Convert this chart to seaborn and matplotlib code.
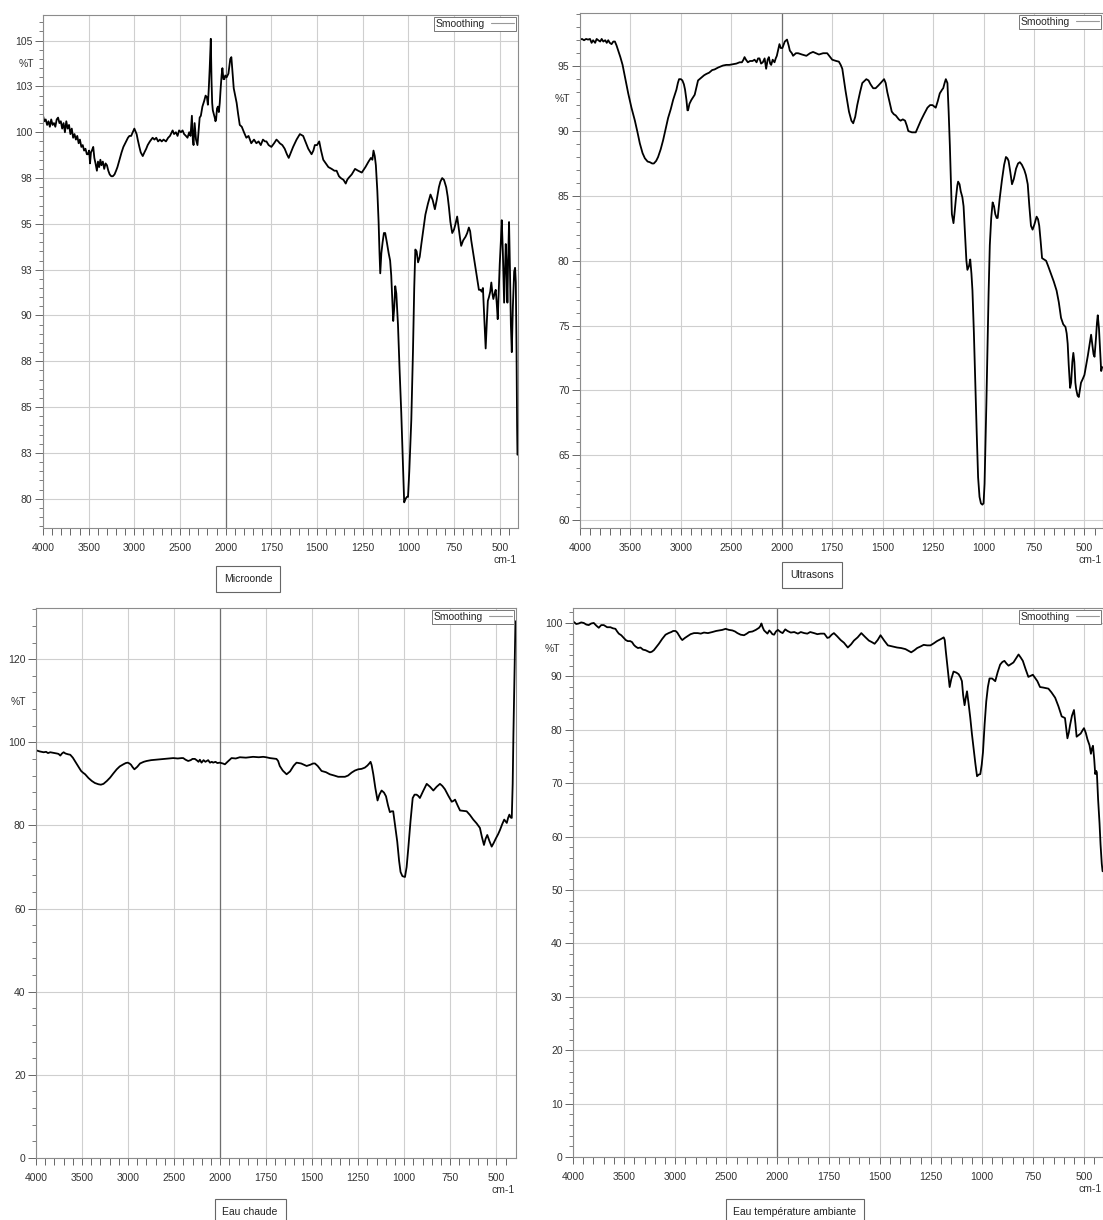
import numpy as np
import pandas as pd
import matplotlib
matplotlib.use("Agg")
import matplotlib.pyplot as plt
from matplotlib.lines import Line2D
from matplotlib.ticker import FixedLocator, MultipleLocator, FuncFormatter
import seaborn as sns

sns.set_theme(style="white")
plt.rcParams['font.family'] = ['Liberation Sans', 'DejaVu Sans']

# ---- spectra (wavenumber cm-1, %T) ----
micro_wn = [4000, 3985, 3970, 3955, 3940, 3925, 3910, 3895, 3880, 3865, 3850, 3835, 3820, 3805, 3790, 3775,
            3760, 3745, 3730, 3715, 3700, 3685, 3670, 3655, 3640, 3625, 3610, 3596, 3580, 3565, 3550, 3535,
            3520, 3508, 3495, 3485, 3475, 3465, 3450, 3438, 3425, 3410, 3398, 3385, 3372, 3360, 3345, 3330,
            3315, 3300, 3285, 3270, 3253, 3235, 3217, 3200, 3185, 3163, 3140, 3120, 3090, 3070, 3054, 3035,
            3017, 3000, 2992, 2975, 2963, 2945, 2930, 2908, 2890, 2870, 2854, 2830, 2800, 2780, 2760, 2740,
            2720, 2700, 2680, 2654, 2630, 2610, 2581, 2565, 2545, 2527, 2510, 2490, 2472, 2455, 2435, 2418,
            2400, 2385, 2370, 2360, 2352, 2340, 2325, 2309, 2295, 2285, 2272, 2255, 2236, 2220, 2205, 2195,
            2185, 2175, 2163, 2155, 2148, 2141, 2130, 2120, 2112, 2105, 2095, 2085, 2075, 2065, 2055, 2045,
            2036, 2025, 2014, 2005, 1995, 1985, 1975, 1969, 1963, 1956, 1948, 1940, 1932, 1923, 1912, 1900,
            1887, 1875, 1860, 1845, 1832, 1820, 1808, 1796, 1785, 1777, 1765, 1750, 1735, 1722, 1712, 1704,
            1690, 1677, 1665, 1655, 1643, 1631, 1612, 1594, 1576, 1560, 1548, 1530, 1520, 1512, 1500, 1488,
            1478, 1466, 1452, 1438, 1420, 1405, 1393, 1380, 1370, 1355, 1343, 1335, 1328, 1310, 1292, 1275,
            1255, 1235, 1218, 1205, 1197, 1191, 1184, 1178, 1170, 1163, 1158, 1154, 1148, 1141, 1134, 1127,
            1118, 1108, 1100, 1094, 1088, 1083, 1077, 1072, 1066, 1057, 1048, 1039, 1030, 1023, 1015, 1008,
            1002, 995, 984, 975, 968, 962, 955, 947, 938, 929, 918, 907, 893, 879, 867, 855,
            845, 833, 825, 815, 805, 793, 785, 778, 770, 760, 750, 742, 733, 725, 717, 711,
            700, 687, 678, 669, 662, 656, 645, 632, 623, 614, 605, 599, 592, 585, 577, 570,
            565, 559, 552, 546, 540, 535, 528, 522, 516, 511, 505, 500, 494, 489, 483, 476,
            471, 467, 462, 458, 454, 449, 444, 439, 434, 428, 421, 416, 412, 408, 405, 403]
micro_t = [100.9, 100.6, 100.7, 100.4, 100.6, 100.3, 100.7, 100.4, 100.5, 100.3, 100.7, 100.8, 100.5, 100.6, 100.2, 100.5,
           100.0, 100.6, 100.2, 100.4, 99.9, 100.2, 99.7, 99.9, 99.6, 99.8, 99.4, 99.6, 99.2, 99.3, 99.0, 99.1,
           98.8, 98.8, 99.0, 98.3, 98.9, 99.0, 99.2, 98.6, 98.3, 97.9, 98.4, 98.1, 98.5, 98.2, 98.4, 98.0,
           98.3, 98.2, 97.9, 97.7, 97.6, 97.6, 97.7, 97.9, 98.1, 98.5, 98.9, 99.2, 99.5, 99.7, 99.8, 99.8,
           100.0, 100.2, 100.1, 99.9, 99.6, 99.2, 98.9, 98.7, 98.9, 99.1, 99.3, 99.5, 99.7, 99.6, 99.7, 99.5,
           99.6, 99.5, 99.6, 99.5, 99.7, 99.8, 100.1, 99.9, 100.0, 99.8, 100.1, 100.0, 100.1, 99.9, 99.8, 99.7,
           100.0, 99.8, 100.9, 99.6, 99.3, 100.5, 99.6, 99.3, 100.2, 100.8, 100.9, 101.4, 101.7, 102.0, 101.9, 101.5,
           102.4, 103.5, 105.1, 102.8, 101.6, 101.2, 101.0, 100.8, 100.6, 100.7, 101.3, 101.4, 101.1, 101.6, 102.4, 103.1,
           103.5, 102.9, 102.9, 103.1, 103.0, 103.2, 104.0, 104.1, 103.3, 102.4, 102.0, 101.6, 101.0, 100.4, 100.3, 100.0,
           99.7, 99.8, 99.4, 99.6, 99.4, 99.5, 99.3, 99.6, 99.5, 99.5, 99.3, 99.2, 99.4, 99.6, 99.5, 99.4,
           99.3, 99.1, 98.8, 98.6, 98.9, 99.2, 99.6, 99.9, 99.8, 99.4, 99.1, 98.8, 99.0, 99.3, 99.3, 99.5,
           99.0, 98.5, 98.3, 98.1, 98.0, 97.9, 97.9, 97.6, 97.5, 97.4, 97.2, 97.4, 97.5, 97.7, 98.0, 97.9,
           97.8, 98.1, 98.4, 98.6, 98.5, 99.0, 98.7, 98.2, 96.8, 95.1, 93.4, 92.3, 93.4, 94.0, 94.5, 94.5,
           94.0, 93.4, 93.0, 92.2, 90.8, 89.7, 90.5, 91.6, 91.2, 89.5, 87.0, 84.7, 82.0, 79.8, 80.0, 80.1,
           80.1, 81.5, 84.3, 88.0, 91.5, 93.6, 93.5, 92.9, 93.2, 93.9, 94.7, 95.5, 96.1, 96.6, 96.3, 95.8,
           96.3, 97.0, 97.3, 97.5, 97.4, 97.0, 96.5, 95.9, 95.1, 94.5, 94.7, 95.0, 95.4, 94.8, 94.2, 93.8,
           94.1, 94.3, 94.5, 94.8, 94.6, 94.1, 93.4, 92.6, 92.0, 91.4, 91.4, 91.3, 91.5, 90.0, 88.2, 89.8,
           90.8, 91.0, 91.3, 91.8, 91.2, 90.9, 91.2, 91.4, 90.6, 89.8, 91.5, 92.8, 94.0, 95.2, 93.5, 90.7,
           92.5, 93.9, 92.5, 90.7, 93.0, 95.1, 92.5, 89.5, 88.0, 90.5, 92.4, 92.6, 91.8, 88.0, 84.0, 82.4]

ultra_wn = [4000, 3980, 3960, 3940, 3920, 3901, 3885, 3870, 3850, 3835, 3819, 3800, 3785, 3769, 3750, 3735,
            3720, 3705, 3687, 3670, 3654, 3638, 3621, 3600, 3578, 3550, 3522, 3490, 3456, 3430, 3407, 3380,
            3357, 3330, 3308, 3285, 3268, 3245, 3226, 3200, 3176, 3150, 3127, 3100, 3077, 3060, 3044, 3030,
            3018, 3000, 2985, 2970, 2959, 2945, 2935, 2929, 2915, 2896, 2880, 2863, 2845, 2830, 2800, 2770,
            2748, 2720, 2690, 2666, 2630, 2600, 2583, 2550, 2520, 2484, 2450, 2418, 2395, 2380, 2369, 2355,
            2336, 2315, 2290, 2270, 2250, 2235, 2221, 2205, 2188, 2170, 2155, 2140, 2128, 2115, 2105, 2090,
            2072, 2060, 2049, 2035, 2023, 2010, 1997, 1985, 1974, 1966, 1960, 1950, 1944, 1930, 1919, 1900,
            1878, 1860, 1845, 1830, 1816, 1795, 1775, 1760, 1750, 1730, 1717, 1708, 1700, 1684, 1667, 1655,
            1646, 1636, 1626, 1612, 1601, 1581, 1570, 1560, 1547, 1535, 1522, 1510, 1493, 1485, 1477, 1465,
            1455, 1445, 1435, 1420, 1411, 1400, 1389, 1380, 1373, 1355, 1336, 1325, 1311, 1295, 1278, 1265,
            1253, 1237, 1227, 1217, 1205, 1200, 1193, 1187, 1179, 1173, 1167, 1160, 1157, 1149, 1143, 1137,
            1130, 1126, 1119, 1113, 1105, 1099, 1095, 1091, 1085, 1080, 1072, 1066, 1060, 1055, 1048, 1041,
            1034, 1027, 1020, 1013, 1006, 1000, 995, 992, 986, 980, 975, 969, 962, 955, 948, 942,
            935, 930, 920, 909, 898, 889, 882, 876, 867, 859, 850, 839, 829, 820, 810, 798,
            790, 781, 773, 765, 757, 748, 737, 730, 724, 717, 710, 700, 690, 680, 666, 652,
            638, 627, 616, 605, 594, 588, 583, 578, 571, 566, 560, 555, 550, 545, 541, 534,
            528, 522, 517, 508, 500, 492, 483, 475, 467, 462, 455, 450, 443, 438, 434, 428,
            422, 417, 412]
ultra_t = [97.05, 97.1, 97.0, 97.1, 97.05, 97.1, 96.8, 97.0, 96.8, 97.1, 97.0, 96.9, 97.1, 96.9, 97.0, 96.8,
           97.0, 96.8, 96.7, 96.9, 96.9, 96.6, 96.2, 95.7, 95.1, 94.0, 92.9, 91.8, 90.8, 89.9, 89.05, 88.3,
           87.9, 87.65, 87.6, 87.5, 87.5, 87.7, 88.0, 88.6, 89.3, 90.2, 91.0, 91.7, 92.4, 92.8, 93.2, 93.7,
           94.0, 94.0, 93.9, 93.6, 93.2, 92.4, 91.6, 91.6, 92.1, 92.4, 92.6, 92.8, 93.4, 93.9, 94.1, 94.3,
           94.4, 94.5, 94.7, 94.75, 94.9, 95.0, 95.05, 95.1, 95.1, 95.15, 95.2, 95.3, 95.3, 95.5, 95.7, 95.5,
           95.3, 95.4, 95.4, 95.5, 95.3, 95.6, 95.6, 95.2, 95.3, 95.6, 94.8, 95.5, 95.7, 95.2, 95.1, 95.5,
           95.3, 95.6, 95.8, 96.3, 96.7, 96.4, 96.4, 96.9, 97.05, 96.6, 96.2, 96.0, 95.8, 96.0, 96.0, 95.9,
           95.8, 96.0, 96.1, 96.0, 95.9, 96.0, 96.0, 95.7, 95.5, 95.4, 95.35, 95.1, 94.8, 93.1, 91.5, 90.8,
           90.6, 91.1, 92.0, 93.0, 93.7, 94.0, 93.9, 93.6, 93.3, 93.3, 93.5, 93.7, 94.0, 93.7, 93.0, 92.2,
           91.5, 91.3, 91.2, 90.9, 90.8, 90.9, 90.8, 90.4, 90.0, 89.9, 89.9, 90.3, 90.8, 91.3, 91.8, 92.0,
           92.0, 91.8, 92.3, 92.9, 93.2, 93.3, 93.7, 94.0, 93.7, 91.5, 88.9, 85.0, 83.6, 82.9, 83.8, 84.8,
           85.8, 86.1, 85.9, 85.35, 84.9, 84.2, 83.0, 81.8, 80.0, 79.3, 79.6, 80.1, 79.0, 77.7, 74.5, 70.6,
           66.8, 63.3, 61.8, 61.3, 61.2, 61.3, 62.8, 64.8, 69.0, 73.6, 77.5, 81.2, 83.3, 84.5, 84.2, 83.6,
           83.3, 83.3, 84.8, 86.2, 87.4, 88.0, 87.9, 87.7, 86.8, 85.9, 86.3, 87.1, 87.5, 87.6, 87.4, 87.0,
           86.6, 85.9, 84.2, 82.7, 82.4, 82.8, 83.4, 83.2, 82.7, 81.5, 80.2, 80.1, 80.0, 79.6, 79.0, 78.4,
           77.7, 76.8, 75.6, 75.1, 74.9, 74.4, 73.6, 72.0, 70.2, 70.6, 72.2, 72.9, 72.2, 70.6, 70.1, 69.6,
           69.5, 70.1, 70.6, 70.9, 71.2, 71.9, 72.7, 73.5, 74.3, 73.7, 72.8, 72.6, 74.0, 75.2, 75.8, 74.8,
           73.0, 71.5, 71.8]

chaude_wn = [4000, 3989, 3960, 3940, 3917, 3890, 3870, 3845, 3820, 3795, 3773, 3755, 3736, 3718, 3700, 3680,
             3650, 3628, 3600, 3578, 3556, 3530, 3510, 3490, 3466, 3430, 3394, 3360, 3321, 3295, 3267, 3230,
             3195, 3160, 3123, 3090, 3051, 3025, 3004, 2985, 2968, 2950, 2931, 2900, 2870, 2830, 2798, 2750,
             2700, 2653, 2600, 2550, 2509, 2460, 2420, 2401, 2375, 2347, 2320, 2300, 2274, 2250, 2235, 2220,
             2202, 2180, 2160, 2130, 2110, 2090, 2076, 2050, 2030, 2004, 1985, 1974, 1960, 1938, 1915, 1893,
             1860, 1821, 1790, 1766, 1750, 1730, 1710, 1694, 1685, 1676, 1660, 1639, 1620, 1600, 1585, 1560,
             1545, 1530, 1510, 1495, 1485, 1470, 1449, 1425, 1404, 1380, 1359, 1340, 1322, 1305, 1286, 1268,
             1250, 1232, 1214, 1200, 1190, 1183, 1177, 1168, 1157, 1145, 1135, 1123, 1110, 1099, 1088, 1078,
             1068, 1060, 1050, 1038, 1028, 1020, 1010, 996, 987, 978, 966, 954, 944, 933, 924, 915,
             897, 878, 860, 842, 824, 806, 793, 779, 760, 742, 733, 724, 710, 697, 680, 661,
             643, 625, 607, 589, 578, 567, 558, 549, 537, 525, 514, 502, 490, 480, 468, 457,
             450, 443, 436, 429, 422, 416, 411, 407, 402, 398, 396]
chaude_t = [98.0, 98.0, 97.8, 97.7, 97.6, 97.7, 97.4, 97.6, 97.5, 97.4, 97.3, 97.2, 96.8, 97.3, 97.6, 97.3,
            97.1, 97.0, 96.3, 95.5, 94.7, 93.8, 93.1, 92.7, 92.3, 91.4, 90.7, 90.2, 89.9, 89.8, 90.0, 90.7,
            91.5, 92.5, 93.5, 94.2, 94.7, 95.0, 95.1, 94.9, 94.6, 94.0, 93.5, 94.1, 94.9, 95.3, 95.5, 95.7,
            95.8, 95.9, 96.0, 96.1, 96.2, 96.1, 96.2, 96.2, 95.8, 95.5, 95.7, 96.0, 96.0, 95.6, 95.3, 95.8,
            95.1, 95.7, 95.3, 95.7, 95.1, 95.3, 95.1, 95.3, 95.0, 95.1, 94.9, 94.7, 95.3, 96.2, 96.1, 96.4,
            96.3, 96.5, 96.4, 96.5, 96.4, 96.2, 96.1, 96.0, 95.5, 94.3, 93.2, 92.3, 93.0, 94.4, 95.1, 94.9,
            94.6, 94.3, 94.6, 94.9, 94.9, 94.3, 93.1, 92.8, 92.3, 92.0, 91.7, 91.7, 91.7, 92.0, 92.7, 93.2,
            93.5, 93.6, 93.9, 94.4, 94.9, 95.3, 94.5, 92.3, 89.0, 86.0, 87.4, 88.4, 87.9, 87.0, 84.8, 83.2,
            83.4, 83.4, 80.0, 76.1, 71.5, 68.8, 67.8, 67.6, 70.0, 74.5, 81.0, 86.6, 87.4, 87.4, 87.1, 86.6,
            88.3, 90.0, 89.3, 88.4, 89.3, 90.0, 89.5, 88.7, 87.1, 85.7, 85.9, 86.2, 84.8, 83.6, 83.5, 83.4,
            82.5, 81.4, 80.5, 79.4, 77.2, 75.3, 76.8, 77.7, 76.2, 74.9, 75.8, 76.9, 77.9, 78.9, 80.3, 81.4,
            81.0, 80.6, 81.8, 82.6, 81.9, 81.8, 90.0, 102.0, 115.0, 125.0, 129.1]

ambiante_wn = [4000, 3993, 3968, 3944, 3920, 3895, 3870, 3846, 3822, 3797, 3772, 3748, 3724, 3699, 3666, 3634,
               3610, 3585, 3568, 3552, 3528, 3503, 3484, 3464, 3440, 3422, 3405, 3389, 3365, 3340, 3315, 3291,
               3270, 3248, 3230, 3209, 3185, 3160, 3128, 3095, 3065, 3039, 3020, 2997, 2980, 2964, 2945, 2931,
               2905, 2882, 2850, 2817, 2780, 2750, 2719, 2680, 2637, 2600, 2572, 2540, 2507, 2475, 2441, 2415,
               2392, 2360, 2327, 2300, 2278, 2245, 2212, 2195, 2180, 2165, 2157, 2145, 2131, 2115, 2098, 2080,
               2065, 2050, 2033, 2015, 1998, 1985, 1975, 1962, 1951, 1935, 1918, 1900, 1886, 1869, 1854, 1840,
               1821, 1805, 1789, 1771, 1756, 1747, 1735, 1724, 1708, 1691, 1675, 1656, 1640, 1626, 1608, 1590,
               1572, 1553, 1538, 1525, 1510, 1496, 1478, 1460, 1437, 1415, 1395, 1374, 1360, 1346, 1330, 1317,
               1300, 1285, 1268, 1252, 1235, 1220, 1200, 1187, 1182, 1177, 1168, 1158, 1150, 1139, 1125, 1114,
               1105, 1098, 1092, 1085, 1079, 1073, 1065, 1057, 1049, 1041, 1032, 1024, 1016, 1008, 1001, 995,
               987, 979, 971, 963, 950, 935, 923, 911, 900, 890, 880, 870, 858, 846, 833, 821,
               810, 800, 787, 773, 762, 751, 740, 729, 716, 700, 675, 660, 642, 626, 610, 594,
               588, 582, 575, 569, 560, 550, 543, 537, 527, 517, 508, 501, 492, 484, 474, 467,
               462, 457, 451, 446, 441, 438, 432, 425, 420, 414, 410]
ambiante_t = [100.1, 100.2, 99.8, 99.9, 100.1, 100.0, 99.7, 99.6, 99.9, 100.0, 99.5, 99.1, 99.6, 99.6, 99.2, 99.2,
              99.0, 98.9, 98.4, 98.0, 97.7, 97.2, 96.8, 96.6, 96.6, 96.4, 95.9, 95.6, 95.3, 95.4, 95.0, 94.9,
              94.7, 94.5, 94.6, 94.9, 95.5, 96.1, 97.0, 97.8, 98.1, 98.3, 98.5, 98.5, 98.2, 97.7, 97.1, 96.8,
              97.2, 97.5, 97.9, 98.1, 98.1, 98.0, 98.2, 98.1, 98.3, 98.5, 98.6, 98.7, 98.9, 98.7, 98.6, 98.4,
              98.1, 97.8, 97.7, 98.0, 98.3, 98.4, 98.7, 98.9, 99.1, 99.5, 99.9, 99.2, 98.6, 98.3, 98.0, 98.6,
              98.3, 97.9, 97.8, 98.4, 98.7, 98.3, 98.1, 98.8, 98.5, 98.2, 98.3, 98.0, 98.3, 98.1, 98.0, 98.3,
              98.1, 97.9, 98.0, 98.0, 97.2, 97.3, 97.8, 98.1, 97.5, 96.8, 96.3, 95.4, 96.0, 96.7, 97.3, 98.1,
              97.4, 96.7, 96.4, 96.1, 96.8, 97.7, 96.7, 95.8, 95.6, 95.4, 95.3, 95.1, 94.8, 94.5, 94.9, 95.3,
              95.6, 95.9, 95.8, 95.8, 96.2, 96.6, 97.0, 97.3, 96.8, 94.8, 91.5, 88.0, 89.5, 90.9, 90.7, 90.4,
              89.8, 89.1, 86.5, 84.6, 86.0, 87.2, 84.8, 82.2, 79.2, 76.5, 73.6, 71.3, 71.6, 71.7, 73.5, 75.8,
              81.0, 85.3, 88.0, 89.6, 89.6, 89.1, 90.8, 92.2, 92.7, 92.9, 92.4, 92.0, 92.3, 92.6, 93.4, 94.1,
              93.5, 92.9, 91.4, 89.9, 90.1, 90.3, 89.7, 89.1, 88.0, 87.9, 87.7, 87.0, 86.0, 84.4, 82.5, 82.2,
              80.3, 78.4, 79.5, 80.9, 82.6, 83.7, 81.2, 78.7, 79.0, 79.3, 79.9, 80.3, 79.4, 78.2, 77.1, 75.5,
              76.5, 77.0, 74.5, 71.7, 72.3, 72.0, 67.0, 62.5, 58.5, 54.9, 53.5]

x_major = [4000, 3500, 3000, 2500, 2000, 1750, 1500, 1250, 1000, 750, 500]
x_minor = list(range(2100, 4000, 100)) + list(range(450, 2000, 50))

W, H = 1103, 1220


def fwd(x):
    x = np.asarray(x, dtype=float)
    return np.where(x <= 2000, x, 2000 + (x - 2000) / 2)


def inv(x):
    x = np.asarray(x, dtype=float)
    return np.where(x <= 2000, x, 2000 + (x - 2000) * 2)


def rect(l, t, r, b):
    return [l / W, 1 - b / H, (r - l) / W, (b - t) / H]


panels = [
    dict(wn=micro_wn, t=micro_t, box=(43, 15, 518, 528), ylim=(78.4, 106.4), ymaj=2.5, ymin=0.5,
         xr=400, pct=(-0.034, 103.75), cap="Microonde", capxy=(248, 579)),
    dict(wn=ultra_wn, t=ultra_t, box=(580, 13, 1103, 528), ylim=(59.4, 99.1), ymaj=5, ymin=1,
         xr=408, pct=(-0.034, 92.5), cap="Ultrasons", capxy=(812, 575)),
    dict(wn=chaude_wn, t=chaude_t, box=(36, 608, 516, 1158), ylim=(0, 132.3), ymaj=20, ymin=4,
         xr=393, pct=(-0.037, 109.6), cap="Eau chaude", capxy=(250, 1212)),
    dict(wn=ambiante_wn, t=ambiante_t, box=(573, 608, 1103, 1157), ylim=(0, 102.8), ymaj=10, ymin=2,
         xr=408, pct=(-0.038, 95.1), cap="Eau température ambiante", capxy=(795, 1212)),
]

fig = plt.figure(figsize=(W / 100, H / 100), dpi=100)
fig.patch.set_facecolor("white")

for p in panels:
    ax = fig.add_axes(rect(*p["box"]))
    df = pd.DataFrame({"wn": p["wn"], "T": p["t"]})
    sns.lineplot(data=df, x="wn", y="T", ax=ax, color="black", linewidth=1.3,
                 estimator=None, sort=False, legend=False)

    ax.set_xscale("function", functions=(fwd, inv))
    ax.set_xlim(4000, p["xr"])
    ax.set_ylim(*p["ylim"])
    ax.xaxis.set_major_locator(FixedLocator(x_major))
    ax.xaxis.set_minor_locator(FixedLocator(x_minor))
    ax.xaxis.set_major_formatter(FuncFormatter(lambda v, pos: f"{int(v)}"))
    ax.yaxis.set_major_locator(MultipleLocator(p["ymaj"]))
    ax.yaxis.set_minor_locator(MultipleLocator(p["ymin"]))
    ax.yaxis.set_major_formatter(FuncFormatter(lambda v, pos: f"{int(np.floor(v + 0.5))}"))
    ax.set_xlabel("")
    ax.set_ylabel("")

    ax.set_axisbelow(True)
    ax.grid(True, which="major", color="#cfcfcf", linewidth=0.8)
    ax.axvline(2000, color="#6e6e6e", linewidth=0.9, zorder=1)

    ax.tick_params(axis="x", which="both", direction="out", length=5, width=0.7,
                   color="#666666", labelsize=7.5, labelcolor="#333333", pad=5.5)
    ax.tick_params(axis="y", which="major", direction="out", length=6, width=0.7,
                   color="#666666", labelsize=7.5, labelcolor="#333333", pad=1.5)
    ax.tick_params(axis="y", which="minor", direction="out", length=3, width=0.6, color="#666666")
    ax.tick_params(bottom=True, left=True, which="both")
    for s in ax.spines.values():
        s.set_color("#8c8c8c")
        s.set_linewidth(0.8)

    ax.text(p["pct"][0], p["pct"][1], "%T", transform=ax.get_yaxis_transform(),
            ha="center", va="center", fontsize=7.5, color="#333333")
    ax.annotate("cm-1", xy=(1, 0), xycoords="axes fraction", xytext=(-1, -23),
                textcoords="offset points", ha="right", va="center", fontsize=7.5, color="#333333")

    proxy = Line2D([], [], color="#999999", linewidth=0.8)
    leg = ax.legend([proxy], ["Smoothing"], loc="upper right", markerfirst=False, frameon=True,
                    fancybox=False, framealpha=1, edgecolor="#777777", fontsize=7.5,
                    borderpad=0.2, handlelength=2.2, handletextpad=0.6, borderaxespad=0.15)
    leg.get_frame().set_linewidth(0.7)

    cx, cy = p["capxy"]
    fig.text(cx / W, 1 - cy / H, p["cap"], ha="center", va="center", fontsize=7.5, color="#222222",
             bbox=dict(boxstyle="square,pad=0.75", fc="white", ec="#666666", lw=0.8))

fig.savefig("out.png", dpi=100, facecolor="white")
